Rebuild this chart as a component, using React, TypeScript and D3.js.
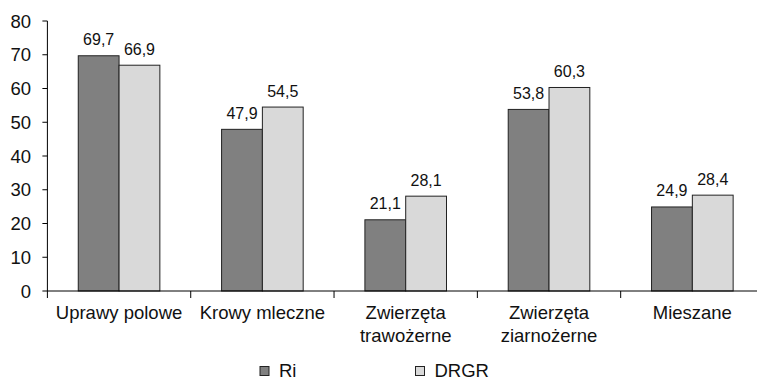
import React from "react";
import * as d3 from "d3";

const categories: string[][] = [
  ["Uprawy polowe"],
  ["Krowy mleczne"],
  ["Zwierzęta", "trawożerne"],
  ["Zwierzęta", "ziarnożerne"],
  ["Mieszane"],
];
const seriesNames = ["Ri", "DRGR"];
const riValues = [69.7, 47.9, 21.1, 53.8, 24.9];
const drgrValues = [66.9, 54.5, 28.1, 60.3, 28.4];
const yTicks = [0, 10, 20, 30, 40, 50, 60, 70, 80];

const colors = ["#808080", "#d9d9d9"];
const FONT = "'Liberation Sans', Arial, Helvetica, sans-serif";

export default function App() {
  const W = 757;
  const H = 381;
  const left = 47.4;
  const right = 764;
  const top = 21;
  const bottom = 291;

  const x = d3
    .scaleBand<number>()
    .domain(d3.range(categories.length))
    .range([left, right])
    .paddingInner(0)
    .paddingOuter(0);
  const y = d3.scaleLinear().domain([0, 80]).range([bottom, top]);
  const barW = 40.8;
  const series = [riValues, drgrValues];
  const fmt = (v: number) => v.toFixed(1).replace(".", ",");

  return (
    <svg
      width={W}
      height={H}
      style={{ position: "absolute", left: 0, top: 0, background: "#fff" }}
      fontFamily={FONT}
    >
      {/* bars */}
      {categories.map((_, i) => {
        const cx = (x(i) as number) + x.bandwidth() / 2;
        return series.map((s, k) => {
          const bx = cx - barW + k * barW;
          return (
            <g key={`${i}-${k}`}>
              <rect
                x={bx}
                y={y(s[i])}
                width={barW}
                height={bottom - y(s[i])}
                fill={colors[k]}
                stroke="#222"
                strokeWidth={1}
              />
              <text
                x={bx + barW / 2}
                y={y(s[i]) - 10.5}
                textAnchor="middle"
                fontSize={16}
                fill="#111"
              >
                {fmt(s[i])}
              </text>
            </g>
          );
        });
      })}
      {/* y axis */}
      <line x1={left} x2={left} y1={top} y2={bottom} stroke="#000" strokeWidth={1} />
      {yTicks.map((t) => (
        <g key={t}>
          <line x1={left - 5} x2={left} y1={y(t)} y2={y(t)} stroke="#000" />
          <text
            x={31}
            y={y(t)}
            dy="0.36em"
            textAnchor="end"
            fontSize={18.5}
            fill="#111"
          >
            {t}
          </text>
        </g>
      ))}
      {/* x axis */}
      <line x1={left} x2={W} y1={bottom} y2={bottom} stroke="#000" />
      {d3.range(categories.length + 1).map((i) => {
        const tx = i < categories.length ? (x(i) as number) : right;
        return (
          <line key={i} x1={tx} x2={tx} y1={bottom} y2={bottom + 7} stroke="#000" />
        );
      })}
      {categories.map((lines, i) => {
        const cx = (x(i) as number) + x.bandwidth() / 2;
        return (
          <text key={i} textAnchor="middle" fontSize={18.5} fill="#111">
            {lines.map((ln, j) => (
              <tspan key={j} x={cx} y={319 + j * 23}>
                {ln}
              </tspan>
            ))}
          </text>
        );
      })}
      {/* legend */}
      {seriesNames.map((n, k) => {
        const lx = 260 + k * 155.5;
        return (
          <g key={n}>
            <rect x={lx} y={366.5} width={9} height={9} fill={colors[k]} stroke="#222" />
            <text x={lx + 19} y={377} fontSize={18.5} fill="#111">
              {n}
            </text>
          </g>
        );
      })}
    </svg>
  );
}
